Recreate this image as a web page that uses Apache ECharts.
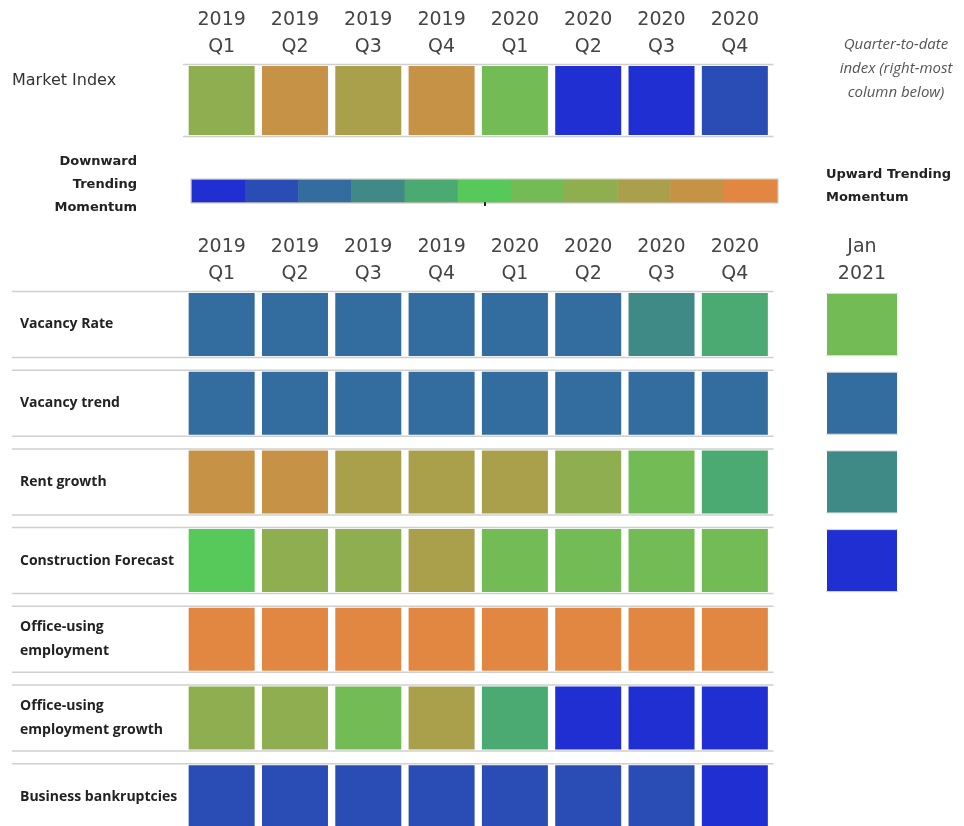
<!DOCTYPE html>
<html>
<head>
<meta charset="utf-8">
<script src="https://cdn.jsdelivr.net/npm/echarts@6/dist/echarts.min.js"></script>
<style>
html,body{margin:0;padding:0;background:#fff;}
#chart{width:964px;height:826px;}
</style>
</head>
<body>
<div id="chart"></div>
<script>
// ---- Data (momentum level 0 = downward ... 10 = upward) ----
const quarters = ['2019\nQ1','2019\nQ2','2019\nQ3','2019\nQ4','2020\nQ1','2020\nQ2','2020\nQ3','2020\nQ4'];
const marketIndexLabel = ['Market Index'];
const marketIndex = [7, 9, 8, 9, 6, 0, 0, 1];

const rowLabels = ['Vacancy Rate','Vacancy trend','Rent growth','Construction Forecast','Office-using\nemployment','Office-using\nemployment growth','Business bankruptcies'];
const vacancyRate      = [2, 2, 2, 2, 2, 2, 3, 4];
const vacancyTrend     = [2, 2, 2, 2, 2, 2, 2, 2];
const rentGrowth       = [9, 9, 8, 8, 8, 7, 6, 4];
const constructionFcst = [5, 7, 7, 8, 6, 6, 6, 6];
const officeEmployment = [10, 10, 10, 10, 10, 10, 10, 10];
const officeEmpGrowth  = [7, 7, 6, 8, 4, 0, 0, 0];
const bankruptcies     = [1, 1, 1, 1, 1, 1, 1, 0];

const janLabel = ['Jan\n2021'];
const jan2021 = [6, 2, 3, 0];

const legendLevels = [0, 1, 2, 3, 4, 5, 6, 7, 8, 9, 10];
const levelColors = ['#1f2fd1','#2a4db5','#336c9e','#3f8a87','#4baa72','#56c95a','#72bb55','#8fae50','#aaa04b','#c69246','#e28741'];

// ---- Build series data ----
const mainRows = [vacancyRate, vacancyTrend, rentGrowth, constructionFcst, officeEmployment, officeEmpGrowth, bankruptcies];
const marketData = marketIndex.map((v, i) => [i, 0, v]);
const mainData = [];
mainRows.forEach((row, r) => row.forEach((v, c) => mainData.push([c, r, v])));
const janData = jan2021.map((v, r) => [0, r, v]);
const legendData = legendLevels.map((v, i) => [i, 0, v]);

const HDR_FONT = '"DejaVu Sans", sans-serif';

function cellRenderer(cellW, cellH) {
  return function (params, api) {
    const c = api.coord([api.value(0), api.value(1)]);
    return {
      type: 'rect',
      shape: { x: c[0] - cellW / 2, y: c[1] - cellH / 2, width: cellW, height: cellH },
      style: { fill: api.visual('color') }
    };
  };
}
function lineRenderer(cellH, extLeft, extRight, color, width) {
  return function (params, api) {
    const c = api.coord([0, api.value(0)]);
    const cs = params.coordSys;
    const x1 = cs.x - extLeft, x2 = cs.x + cs.width + extRight;
    const yt = c[1] - cellH / 2 - 1.5, yb = c[1] + cellH / 2 + 1.5;
    return {
      type: 'group',
      children: [
        { type: 'line', shape: { x1: x1, y1: yt, x2: x2, y2: yt }, style: { stroke: color, lineWidth: width } },
        { type: 'line', shape: { x1: x1, y1: yb, x2: x2, y2: yb }, style: { stroke: color, lineWidth: width } }
      ]
    };
  };
}

const hiddenAxis = { axisLine: { show: false }, axisTick: { show: false }, splitLine: { show: false } };
const topLabel = (margin) => ({
  show: true, margin: margin, fontFamily: HDR_FONT, fontSize: 19, color: '#444', lineHeight: 27,
  verticalAlign: 'bottom'
});

const PITCH = 78.7;
const MAIN_TOP = 324.5 - PITCH / 2;

const option = {
  animation: false,
  backgroundColor: '#fff',
  grid: [
    { left: 185, top: 64, width: 586.5, height: 73, outerBoundsMode: 'none' },
    { left: 192, top: 180, width: 585, height: 22, show: true, borderColor: '#c8c1ba', borderWidth: 3, backgroundColor: 'transparent', outerBoundsMode: 'none' },
    { left: 185, top: MAIN_TOP, width: 586.5, height: PITCH * 7, outerBoundsMode: 'none' },
    { left: 826, top: MAIN_TOP, width: 72, height: PITCH * 4, outerBoundsMode: 'none' }
  ],
  xAxis: [
    Object.assign({ type: 'category', gridIndex: 0, data: quarters, position: 'top', axisLabel: topLabel(3) }, hiddenAxis),
    { type: 'category', gridIndex: 1, data: legendLevels, position: 'bottom', axisLine: { show: false },
      axisTick: { show: true, alignWithLabel: true, length: 4, interval: function (i) { return i === 5; }, lineStyle: { color: '#222', width: 2 } },
      axisLabel: { show: false }, splitLine: { show: false } },
    Object.assign({ type: 'category', gridIndex: 2, data: quarters, position: 'top', axisLabel: topLabel(-2) }, hiddenAxis),
    Object.assign({ type: 'category', gridIndex: 3, data: janLabel, position: 'top', axisLabel: topLabel(-2) }, hiddenAxis)
  ],
  yAxis: [
    Object.assign({ type: 'category', gridIndex: 0, data: marketIndexLabel, inverse: true, axisLabel: { show: false } }, hiddenAxis),
    Object.assign({ type: 'category', gridIndex: 1, data: ['legend'], axisLabel: { show: false } }, hiddenAxis),
    Object.assign({ type: 'category', gridIndex: 2, data: rowLabels, inverse: true,
      axisLabel: { show: true, margin: 165, align: 'left', fontFamily: '"Open Sans", sans-serif',
        fontWeight: 'bold', fontSize: 14, color: '#222', lineHeight: 24 } }, hiddenAxis),
    Object.assign({ type: 'category', gridIndex: 3, data: rowLabels.slice(0, 4), inverse: true, axisLabel: { show: false } }, hiddenAxis)
  ],
  visualMap: {
    type: 'piecewise', show: false, dimension: 2, seriesIndex: [0, 1, 2, 3],
    pieces: levelColors.map((c, i) => ({ value: legendLevels[i], color: c }))
  },
  series: [
    { type: 'custom', xAxisIndex: 0, yAxisIndex: 0, data: marketData, renderItem: cellRenderer(66, 69), z: 3 },
    { type: 'heatmap', xAxisIndex: 1, yAxisIndex: 1, data: legendData, itemStyle: { borderWidth: 0 }, z: 1 },
    { type: 'custom', xAxisIndex: 2, yAxisIndex: 2, data: mainData, renderItem: cellRenderer(66, 63), z: 3 },
    { type: 'custom', xAxisIndex: 3, yAxisIndex: 3, data: janData, renderItem: cellRenderer(70, 62), z: 3 },
    { type: 'custom', xAxisIndex: 0, yAxisIndex: 0, data: [[0]], renderItem: lineRenderer(69, 2, 2, '#cfcfcf', 1.5), z: 2 },
    { type: 'custom', xAxisIndex: 2, yAxisIndex: 2, data: rowLabels.map((l, i) => [i]), renderItem: lineRenderer(63, 173, 2, '#cfcfcf', 1.5), z: 2 },
    { type: 'custom', xAxisIndex: 3, yAxisIndex: 3, data: jan2021.map((v, i) => [i]), renderItem: lineRenderer(62 - 3, 0, 0, '#d8d8d8', 1), z: 4 }
  ],
  graphic: [
    { type: 'text', style: { text: 'Market Index', x: 12, y: 81, verticalAlign: 'middle', fontFamily: HDR_FONT, fontSize: 16, fill: '#333' } },
    { type: 'text', style: { text: 'Downward\nTrending\nMomentum', x: 137, y: 150.5, align: 'right', verticalAlign: 'top', lineHeight: 23,
        fontFamily: HDR_FONT, fontWeight: 'bold', fontSize: 13, fill: '#222' } },
    { type: 'text', style: { text: 'Upward Trending\nMomentum', x: 826, y: 163, align: 'left', verticalAlign: 'top', lineHeight: 23,
        fontFamily: HDR_FONT, fontWeight: 'bold', fontSize: 13, fill: '#222' } },
    { type: 'text', style: { text: 'Quarter-to-date\nindex (right-most\ncolumn below)', x: 896, y: 33, align: 'center', verticalAlign: 'top', lineHeight: 24,
        fontFamily: '"Open Sans", sans-serif', fontStyle: 'italic', fontSize: 15, fill: '#555' } }
  ]
};

const chart = echarts.init(document.getElementById('chart'), null, { renderer: 'canvas' });
chart.setOption(option);
</script>
</body>
</html>
